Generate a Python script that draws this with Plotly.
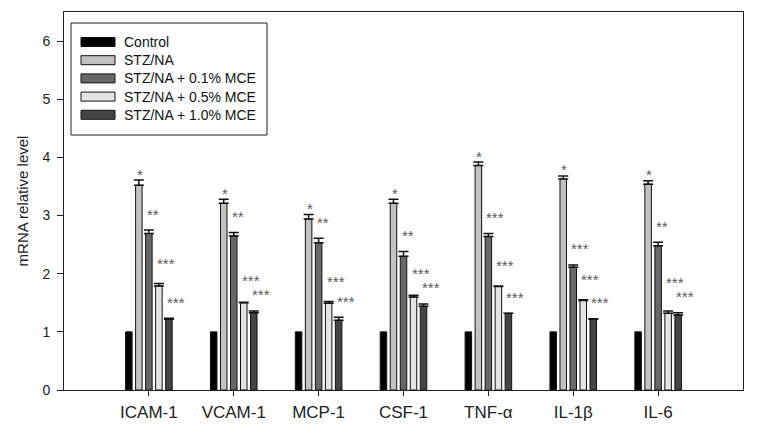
import plotly.graph_objects as go

categories = ["ICAM-1", "VCAM-1", "MCP-1", "CSF-1", "TNF-α", "IL-1β", "IL-6"]
series_names = ["Control", "STZ/NA", "STZ/NA + 0.1% MCE", "STZ/NA + 0.5% MCE", "STZ/NA + 1.0% MCE"]

control = [1.0, 1.0, 1.0, 1.0, 1.0, 1.0, 1.0]
stz = [3.52, 3.21, 2.94, 3.21, 3.86, 3.63, 3.54]
mce01 = [2.69, 2.65, 2.53, 2.30, 2.64, 2.11, 2.48]
mce05 = [1.79, 1.50, 1.49, 1.60, 1.78, 1.54, 1.32]
mce10 = [1.215, 1.33, 1.20, 1.44, 1.32, 1.215, 1.29]

err_control = [0, 0, 0, 0, 0, 0, 0]
err_stz = [0.09, 0.07, 0.08, 0.07, 0.06, 0.05, 0.06]
err_mce01 = [0.06, 0.06, 0.08, 0.08, 0.05, 0.04, 0.06]
err_mce05 = [0.04, 0.01, 0.03, 0.03, 0.01, 0.01, 0.04]
err_mce10 = [0.02, 0.03, 0.05, 0.04, 0.00, 0.01, 0.04]

sig_control = ["", "", "", "", "", "", ""]
sig_stz = ["*", "*", "*", "*", "*", "*", "*"]
sig_mce01 = ["**", "**", "**", "**", "***", "***", "**"]
sig_mce05 = ["***", "***", "***", "***", "***", "***", "***"]
sig_mce10 = ["***", "***", "***", "***", "***", "***", "***"]

values = [control, stz, mce01, mce05, mce10]
errors = [err_control, err_stz, err_mce01, err_mce05, err_mce10]
sigs = [sig_control, sig_stz, sig_mce01, sig_mce05, sig_mce10]
colors = ["#000000", "#c2c2c2", "#686868", "#e4e4e4", "#454545"]

FONT = "Liberation Sans, Arial, sans-serif"
Y_MAX = 6.5
PLOT_W = 757 - 64 - 14
PLOT_H = 437 - 12 - 47
PX_PER_UNIT = PLOT_H / Y_MAX

fig = go.Figure()
for i, name in enumerate(series_names):
    fig.add_trace(go.Bar(
        x=categories, y=values[i], name=name,
        marker=dict(color=colors[i], line=dict(color="#111111", width=1)),
        error_y=dict(type="data", array=errors[i], arrayminus=[0] * len(categories),
                     symmetric=False, color="#111111", thickness=1.5, width=5,
                     visible=(i > 0)),
        showlegend=False,
    ))

# significance marks (gap above error bar in px, with simple collision avoidance)
slot_px = 10
base_gap = [0, 6, 16, 20, 16]
min_sep = 14
annotations = []
for j, cat in enumerate(categories):
    heights = {}
    for i in range(len(series_names) - 1, 0, -1):
        top_px = (values[i][j] + errors[i][j]) * PX_PER_UNIT
        h = top_px + base_gap[i]
        if i + 1 in heights and i >= 3 and h < heights[i + 1] + min_sep:
            h = heights[i + 1] + min_sep
        heights[i] = h
    for i in range(1, len(series_names)):
        s = sigs[i][j]
        if not s:
            continue
        top = values[i][j] + errors[i][j]
        shift = heights[i] - top * PX_PER_UNIT
        annotations.append(dict(
            x=cat, y=top, xref="x", yref="y", text=s, showarrow=False,
            xanchor="left", yanchor="middle",
            xshift=(i - 2) * slot_px - 4, yshift=shift,
            font=dict(family=FONT, size=15, color="#5a5a5a"),
        ))

# manual legend
def px_x(p):
    return (p - 64.0) / PLOT_W
def px_y(p):
    return (390.0 - p) / PLOT_H

shapes = [dict(type="rect", xref="paper", yref="paper",
               x0=px_x(71), x1=px_x(267), y0=px_y(135), y1=px_y(23),
               line=dict(color="#222222", width=1), fillcolor="white", layer="above")]
for i, name in enumerate(series_names):
    yc = 42 + 18.2 * i
    shapes.append(dict(type="rect", xref="paper", yref="paper",
                       x0=px_x(81), x1=px_x(115), y0=px_y(yc + 4.5), y1=px_y(yc - 4.5),
                       line=dict(color="#111111", width=1), fillcolor=colors[i], layer="above"))
    annotations.append(dict(x=px_x(122), y=px_y(yc), xref="paper", yref="paper",
                            text=name, showarrow=False, xanchor="left", yanchor="middle",
                            font=dict(family=FONT, size=14, color="#111111")))

fig.update_layout(
    width=757, height=437,
    margin=dict(l=64, r=14, t=12, b=47),
    paper_bgcolor="white", plot_bgcolor="white",
    barmode="group", bargap=0.41, bargroupgap=0.35,
    font=dict(family=FONT, color="#222222"),
    shapes=shapes, annotations=annotations,
    xaxis=dict(range=[-1, 7], showline=True, linecolor="#222222", linewidth=1, mirror=True,
               ticks="outside", ticklen=5, tickcolor="#222222", showgrid=False,
               ticklabelstandoff=2,
               tickfont=dict(size=17, family=FONT, color="#222222")),
    yaxis=dict(range=[0, Y_MAX], showline=True, linecolor="#222222", linewidth=1, mirror=True,
               ticks="outside", ticklen=6, tickcolor="#222222", showgrid=False, zeroline=False,
               ticklabelstandoff=4,
               tickvals=[0, 1, 2, 3, 4, 5, 6], tickfont=dict(size=14, family=FONT, color="#222222"),
               title=dict(text="mRNA relative level", font=dict(size=15, family=FONT, color="#222222"),
                          standoff=10)),
)

fig.write_html("out.html", config={"displayModeBar": False},
               post_script="document.body.style.margin='0';document.body.style.overflow='hidden';")
